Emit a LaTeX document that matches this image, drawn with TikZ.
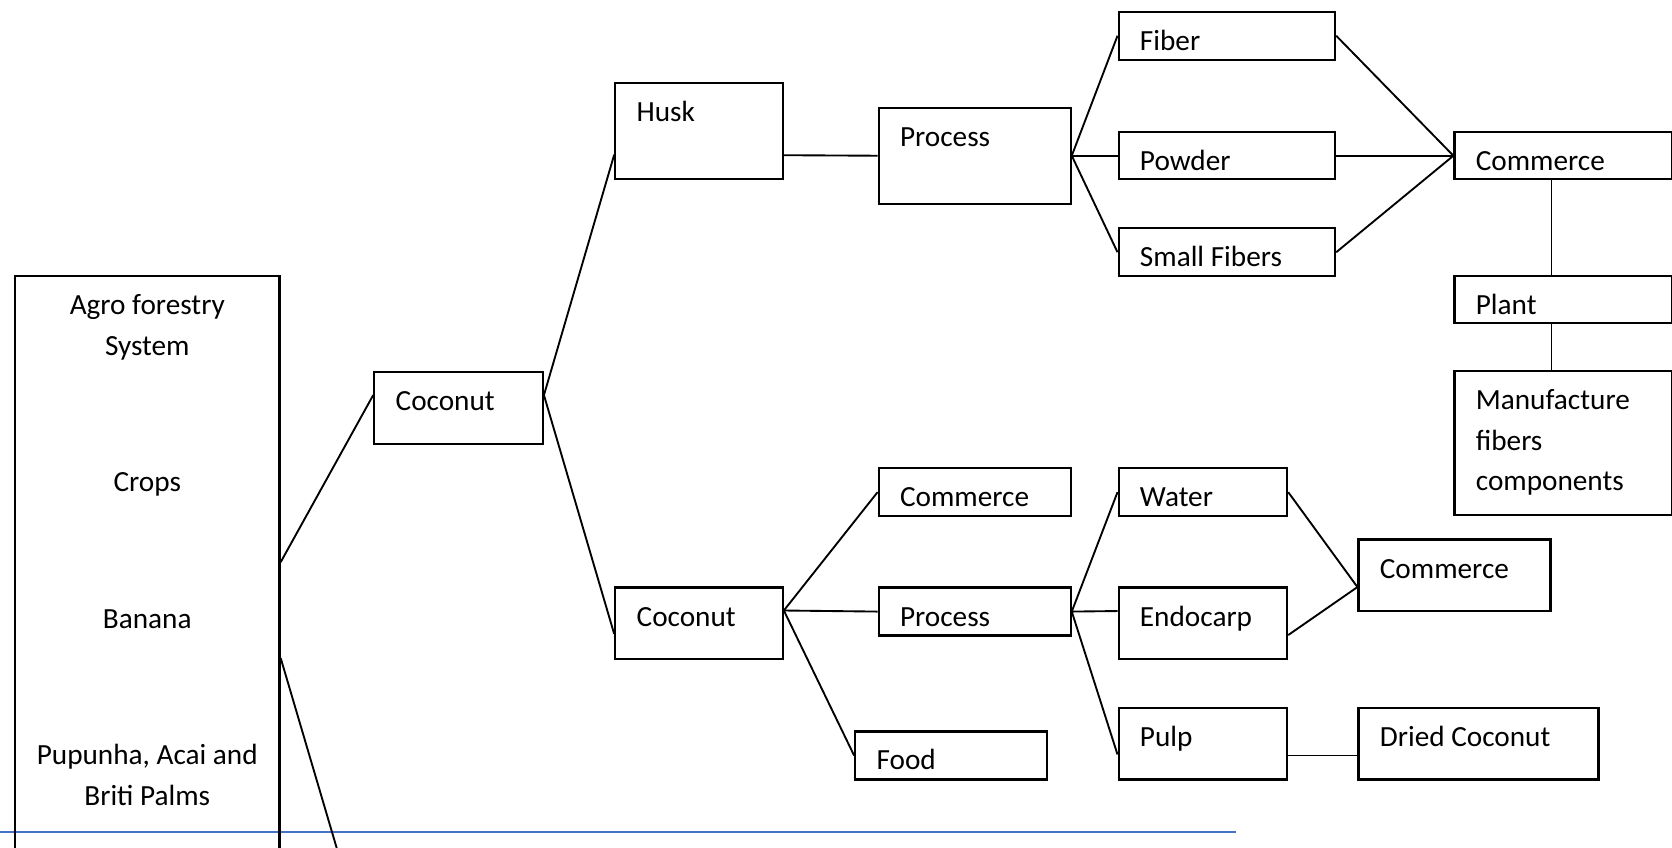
\documentclass[tikz,border=0pt]{standalone}
\usepackage{fontspec}
\setmainfont{Carlito}
\definecolor{reglaazul}{RGB}{68,114,196}

\begin{document}
\begin{tikzpicture}[x=0.01cm, y=-0.01cm,
    caja/.style 2 args={draw, line width=0.6pt, anchor=north west,
      inner xsep=0.2cm, inner ysep=0pt, align=flush left,
      text width={#1*0.01cm-0.4cm}, text height=0.36cm,
      text depth={#2*0.01cm-0.36cm},
      font=\fontsize{7.8pt}{0.38cm}\selectfont},
    linea/.style={line width=0.5pt}]

    \clip (0,0) rectangle (1568,795);

    % Regla azul
    \draw[reglaazul, line width=0.45pt] (0,780) -- (1159,780);

    % Cajas
    \node[caja={248}{560}, align=flush center, inner xsep=0.09cm, text width=2.3cm] (agro) at (13,258)
      {Agro forestry\\System\\[0.9cm]Crops\\[0.9cm]Banana\\[0.9cm]Pupunha, Acai and\\Briti Palms};
    \node[caja={158}{67}] (coco1) at (350,348) {Coconut};
    \node[caja={157}{90}] (husk) at (576,77) {Husk};
    \node[caja={180}{90}] (proc1) at (823,100) {Process};
    \node[caja={203}{45}] (fiber) at (1048,10) {Fiber};
    \node[caja={203}{44}] (powder) at (1048,123) {Powder};
    \node[caja={203}{45}] (smallfib) at (1048,213) {Small Fibers};
    \node[caja={204}{44}] (comm1) at (1363,123) {Commerce};
    \node[caja={204}{44}] (plant) at (1363,258) {Plant};
    \node[caja={204}{135}] (manuf) at (1363,347) {Manufacture\\fibers\\components};
    \node[caja={157}{67}] (coco2) at (576,550) {Coconut};
    \node[caja={180}{45}] (comm2) at (823,438) {Commerce};
    \node[caja={180}{45}] (proc2) at (823,550) {Process};
    \node[caja={180}{45}] (food) at (801,685) {Food};
    \node[caja={158}{45}] (water) at (1048,438) {Water};
    \node[caja={158}{67}] (endo) at (1048,550) {Endocarp};
    \node[caja={158}{67}] (pulp) at (1048,663) {Pulp};
    \node[caja={180}{67}] (comm3) at (1273,505) {Commerce};
    \node[caja={225}{67}] (dried) at (1273,663) {Dried Coconut};
    \coordinate (fuera) at (326,830);

    % Conectores
    \draw[linea] ([yshift=-2.69cm]agro.north east) -- ([yshift=0.12cm]coco1.west);
    \draw[linea] ([yshift=-3.59cm]agro.north east) -- (fuera);
    \draw[linea] ([yshift=0.12cm]coco1.east) -- ([yshift=-0.22cm]husk.west);
    \draw[linea] ([yshift=0.12cm]coco1.east) -- ([yshift=-0.10cm]coco2.west);
    \draw[linea] ([yshift=-0.225cm]husk.east) -- (proc1.west);
    \draw[linea] (proc1.east) -- (fiber.west);
    \draw[linea] (proc1.east) -- (powder.west);
    \draw[linea] (proc1.east) -- (smallfib.west);
    \draw[linea] (fiber.east) -- (comm1.west);
    \draw[linea] (powder.east) -- (comm1.west);
    \draw[linea] (smallfib.east) -- (comm1.west);
    \draw[linea] ([xshift=-0.11cm]comm1.south) -- ([xshift=-0.11cm]plant.north);
    \draw[linea] ([xshift=-0.11cm]plant.south) -- ([xshift=-0.11cm]manuf.north);
    \draw[linea] ([yshift=0.12cm]coco2.east) -- (comm2.west);
    \draw[linea] ([yshift=0.12cm]coco2.east) -- (proc2.west);
    \draw[linea] ([yshift=0.12cm]coco2.east) -- (food.west);
    \draw[linea] (proc2.east) -- (water.west);
    \draw[linea] (proc2.east) -- ([yshift=0.115cm]endo.west);
    \draw[linea] (proc2.east) -- ([yshift=-0.10cm]pulp.west);
    \draw[linea] (water.east) -- ([yshift=-0.11cm]comm3.west);
    \draw[linea] ([yshift=-0.11cm]endo.east) -- ([yshift=-0.11cm]comm3.west);
    \draw[linea] ([yshift=-0.11cm]pulp.east) -- ([yshift=-0.11cm]dried.west);

  \end{tikzpicture}
\end{document}
